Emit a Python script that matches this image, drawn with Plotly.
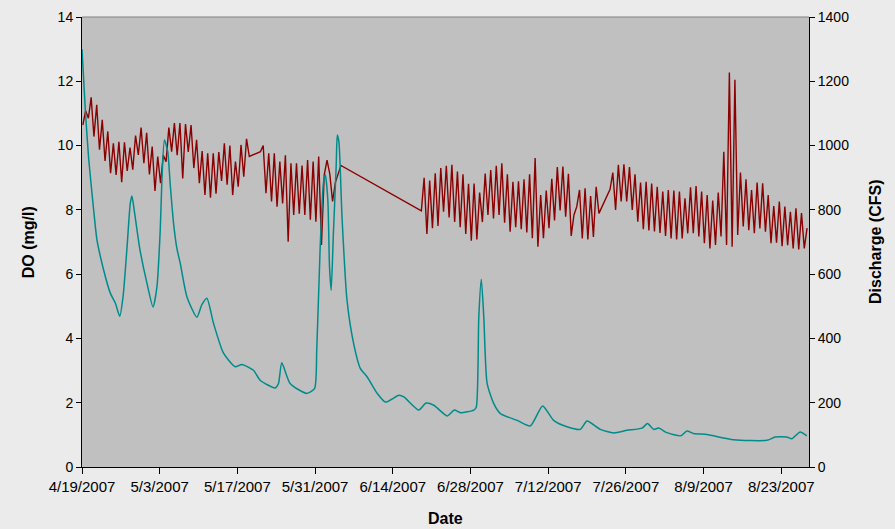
import plotly.graph_objects as go
import pandas as pd

START = "2007-04-19"
END = "2007-08-28"

# Dissolved oxygen (mg/l): one early-morning and one afternoon reading per day,
# day 0 = 4/19/2007 ; None = no data
do_morning = [
    10.64, 10.85, 10.28, 9.87, 9.52, 9.14, 9.09, 8.86, 9.21, 9.25,
    9.71, 9.45, 9.10, 8.59, 8.83, 9.50, 9.81, 9.70, 8.98, 9.80,
    9.30, 8.83, 8.46, 8.38, 8.50, 8.90, 8.78, 8.46, 8.72, 9.03,
    9.66, None, 9.81, 8.52, 8.26, 8.10, 8.20, 7.01, 7.84, 7.88,
    7.84, 7.69, 7.63, 6.91, 9.55, 8.26, 9.10, None, None, None,
    None, None, None, None, None, None, None, None, None, None,
    None, 7.97, 7.25, 7.43, 7.50, 7.94, 7.76, 7.62, 7.46, 7.25,
    7.04, 7.08, 7.62, 7.84, 7.73, 7.84, 7.60, 7.32, 7.46, 7.40,
    7.30, 7.12, 6.85, 7.12, 7.43, 7.67, 7.98, 7.79, 7.19, 8.10,
    7.11, 7.08, 7.16, 7.89, None, 8.64, 8.00, 8.26, 8.26, 8.00,
    7.63, 7.40, 7.36, 7.33, 7.28, 7.19, 7.11, 7.08, 7.11, 7.27,
    7.27, 7.17, 6.96, 6.80, 6.91, 7.17, 6.91, 6.85, 7.22, 7.48,
    7.37, 7.27, 7.42, 7.32, 6.96, 6.98, 6.87, 6.90, 6.80, 6.77,
    6.80,
]
do_afternoon = [
    11.08, 11.50, 11.27, 10.80, 10.44, 10.07, 10.12, 10.10, 9.94, 10.31,
    10.56, 10.40, 9.97, 9.66, 9.70, 10.56, 10.70, 10.70, 10.67, 10.64,
    10.18, 9.83, 9.76, 9.76, 9.80, 10.07, 10.00, 9.50, 10.02, 10.21,
    None, None, 10.00, 9.76, 9.76, 9.50, 9.70, 9.45, 9.45, 9.38,
    9.55, 9.50, 9.66, 9.09, 9.12, 8.85, 9.38, None, None, None,
    None, None, None, None, None, None, None, None, None, None,
    None, 9.00, 8.91, 9.14, 9.30, 9.37, 9.40, 9.19, 9.11, 8.81,
    8.82, 8.54, 9.13, 9.24, 9.37, 9.45, 9.11, 8.87, 8.89, 8.95,
    9.11, 9.61, 8.46, 8.60, 8.97, 9.33, 9.35, 9.12, 7.84, 8.62,
    8.67, 8.43, 8.72, None, None, 9.16, 9.40, 9.42, 9.33, 9.11,
    8.85, 8.87, 8.82, 8.72, 8.57, 8.62, 8.60, 8.57, 8.36, 8.70,
    8.74, 8.57, 8.46, 8.29, 8.54, 9.81, 12.27, 12.05, 9.16, 8.95,
    8.62, 8.85, 8.83, 8.46, 8.12, 8.26, 8.10, 7.94, 8.05, 7.90,
    7.43,
]

# Discharge (CFS): days after 4/19/2007 and flow
q_day = [
    0, 0.6, 1.2, 2.1, 2.7, 3.9, 5.1, 6.0, 6.8, 7.4,
    8.1, 8.7, 9.0, 9.4, 10.4, 11.7, 12.8, 13.5, 14.1, 14.4,
    14.85, 15.45, 15.9, 16.5, 17.1, 17.7, 18.9, 20.7, 21.6, 22.5,
    23.7, 25.5, 27.6, 28.8, 30.9, 32.1, 34.8, 35.4, 36.0, 37.5,
    40.5, 41.9, 42.3, 42.9, 43.5, 43.85, 44.3, 44.6, 44.9, 45.3,
    45.8, 46.0, 46.3, 46.85, 47.75, 48.95, 50.15, 51.4, 53.2, 54.7,
    57.1, 58.0, 60.7, 62.0, 63.4, 65.8, 67.1, 68.2, 70.6, 71.05,
    71.5, 71.95, 72.4, 73.0, 74.2, 75.4, 78.4, 80.8, 83.0, 85.0,
    87.4, 89.8, 91.0, 93.4, 95.8, 98.2, 100.9, 101.9, 103.0, 103.9,
    105.4, 107.9, 109.0, 110.2, 112.6, 117.4, 123.4, 124.9, 127.0, 127.9,
    129.4, 130.6,
]
q_cfs = [
    1300, 1110, 960, 800, 706, 613, 541, 510, 469, 530,
    680, 820, 843, 800, 680, 572, 498, 560, 738, 893,
    1017, 981, 878, 758, 680, 634, 530, 466, 505, 525,
    447, 354, 312, 319, 301, 270, 246, 260, 324, 260,
    229, 244, 364, 675, 883, 909, 830, 623, 550, 727,
    935, 1033, 1010, 779, 519, 384, 307, 280, 229, 202,
    223, 218, 177, 199, 192, 159, 177, 169, 177, 187,
    467, 584, 467, 260, 197, 166, 145, 128, 190, 145,
    125, 117, 143, 117, 106, 114, 121, 135, 117, 121,
    107, 97, 112, 104, 101, 85, 83, 93, 93, 88,
    109, 97,
]

start = pd.Timestamp(START)
x_do, y_do = [], []
for d, (m, a) in enumerate(zip(do_morning, do_afternoon)):
    if m is not None:
        x_do.append(start + pd.Timedelta(hours=24 * d + 3.6))
        y_do.append(m)
    if a is not None:
        x_do.append(start + pd.Timedelta(hours=24 * d + 15.6))
        y_do.append(a)

x_q = [start + pd.Timedelta(hours=24 * d) for d in q_day]

fig = go.Figure()
fig.add_trace(go.Scatter(x=x_do, y=y_do, mode="lines", name="DO",
                         line=dict(color="#8b0000", width=1.4), yaxis="y"))
fig.add_trace(go.Scatter(x=x_q, y=q_cfs, mode="lines", name="Discharge",
                         line=dict(color="#008b8b", width=1.5, shape="spline", smoothing=0.6),
                         yaxis="y2"))

FONT = "Liberation Sans, Arial, sans-serif"
fig.update_layout(
    width=895, height=529,
    paper_bgcolor="#ebebeb", plot_bgcolor="#c0c0c0",
    margin=dict(l=82, r=86, t=17, b=62, autoexpand=False),
    showlegend=False,
    font=dict(family=FONT, color="black", size=14),
    xaxis=dict(range=[START, END], type="date", tick0=START, dtick=14 * 86400000,
               tickformat="%-m/%-d/%Y", ticks="outside", ticklen=6, tickcolor="black",
               showline=True, linecolor="black", linewidth=1, showgrid=False,
               zeroline=False, tickfont=dict(size=15)),
    yaxis=dict(range=[0, 14], dtick=2, ticks="outside", ticklen=5, tickcolor="black",
               showline=True, linecolor="black", linewidth=1, showgrid=False,
               zeroline=False, tickfont=dict(size=14)),
    yaxis2=dict(range=[0, 1400], dtick=200, overlaying="y", side="right",
                ticks="outside", ticklen=5, tickcolor="black", showline=True,
                linecolor="black", linewidth=1, showgrid=False, zeroline=False,
                tickfont=dict(size=14)),
    shapes=[dict(type="line", xref="paper", yref="paper", x0=0, x1=1, y0=1, y1=1,
                 line=dict(color="#808080", width=1))],
    annotations=[
        dict(text="<b>DO (mg/l)</b>", xref="paper", yref="paper", x=-0.074, y=0.5,
             textangle=-90, showarrow=False, font=dict(size=16), xanchor="center", yanchor="middle"),
        dict(text="<b>Discharge (CFS)</b>", xref="paper", yref="paper", x=1.0908, y=0.5,
             textangle=-90, showarrow=False, font=dict(size=16), xanchor="center", yanchor="middle"),
        dict(text="<b>Date</b>", xref="paper", yref="paper", x=0.5, y=-0.114,
             showarrow=False, font=dict(size=16), xanchor="center", yanchor="middle"),
    ],
)

fig.write_html("out.html", config={"displayModeBar": False},
               post_script="document.body.style.margin='0';")
